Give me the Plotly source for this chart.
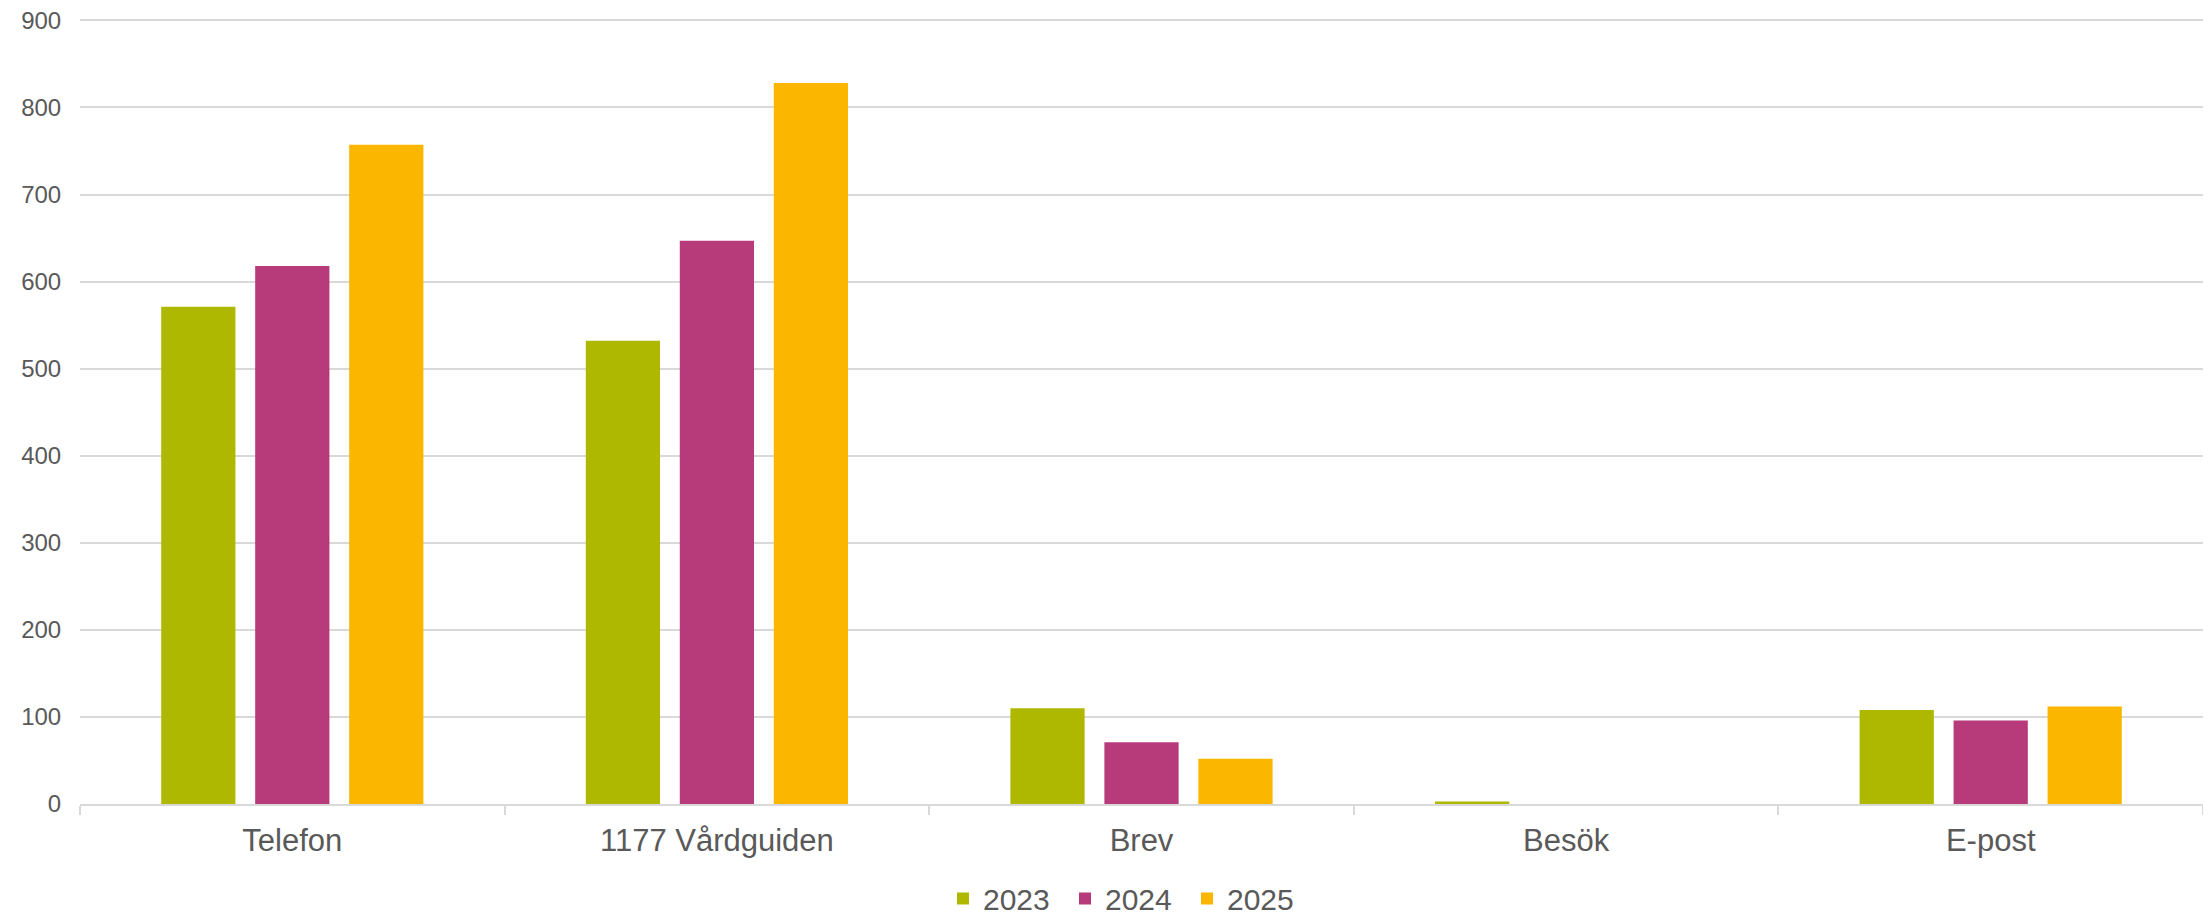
import plotly.graph_objects as go

categories = ["Telefon", "1177 Vårdguiden", "Brev", "Besök", "E-post"]
years = ["2023", "2024", "2025"]
values_2023 = [571, 532, 110, 3, 108]
values_2024 = [618, 647, 71, 0, 96]
values_2025 = [757, 828, 52, 0, 112]
colors = ["#afb800", "#b73b7a", "#fbb600"]
y_ticks = [0, 100, 200, 300, 400, 500, 600, 700, 800, 900]

fig = go.Figure()
for name, vals, col in zip(years, [values_2023, values_2024, values_2025], colors):
    fig.add_trace(go.Bar(x=categories, y=vals, name=name,
                         marker=dict(color=col, line=dict(width=0))))

fig.update_layout(
    width=2203, height=912,
    margin=dict(l=72, r=8, t=7.6, b=116, autoexpand=False),
    paper_bgcolor="white", plot_bgcolor="white",
    barmode="group", bargap=0.336, bargroupgap=0.21,
    font=dict(family="Liberation Sans, Arial, sans-serif", color="#595959"),
    legend=dict(orientation="h", x=0.4065, xanchor="left", y=-0.153, yanchor="bottom",
                font=dict(size=30, color="#595959"), entrywidth=77, traceorder="normal"),
    showlegend=True,
)
fig.update_xaxes(
    type="category", automargin=False,
    showline=True, linecolor="#d9d9d9", linewidth=2,
    ticks="outside", tickson="boundaries", ticklen=9, tickcolor="#d9d9d9", tickwidth=2,
    tickfont=dict(size=31, color="#595959"), ticklabelstandoff=8,
    showgrid=False,
)
fig.update_yaxes(
    range=[0, 905], tickvals=y_ticks, automargin=False,
    showgrid=True, gridcolor="#d9d9d9", gridwidth=2,
    zeroline=False, showline=False,
    ticks="outside", ticklen=13, tickcolor="rgba(0,0,0,0)",
    tickfont=dict(size=24, color="#595959"), ticklabeloverflow="allow",
)

fig.write_html("out.html")
